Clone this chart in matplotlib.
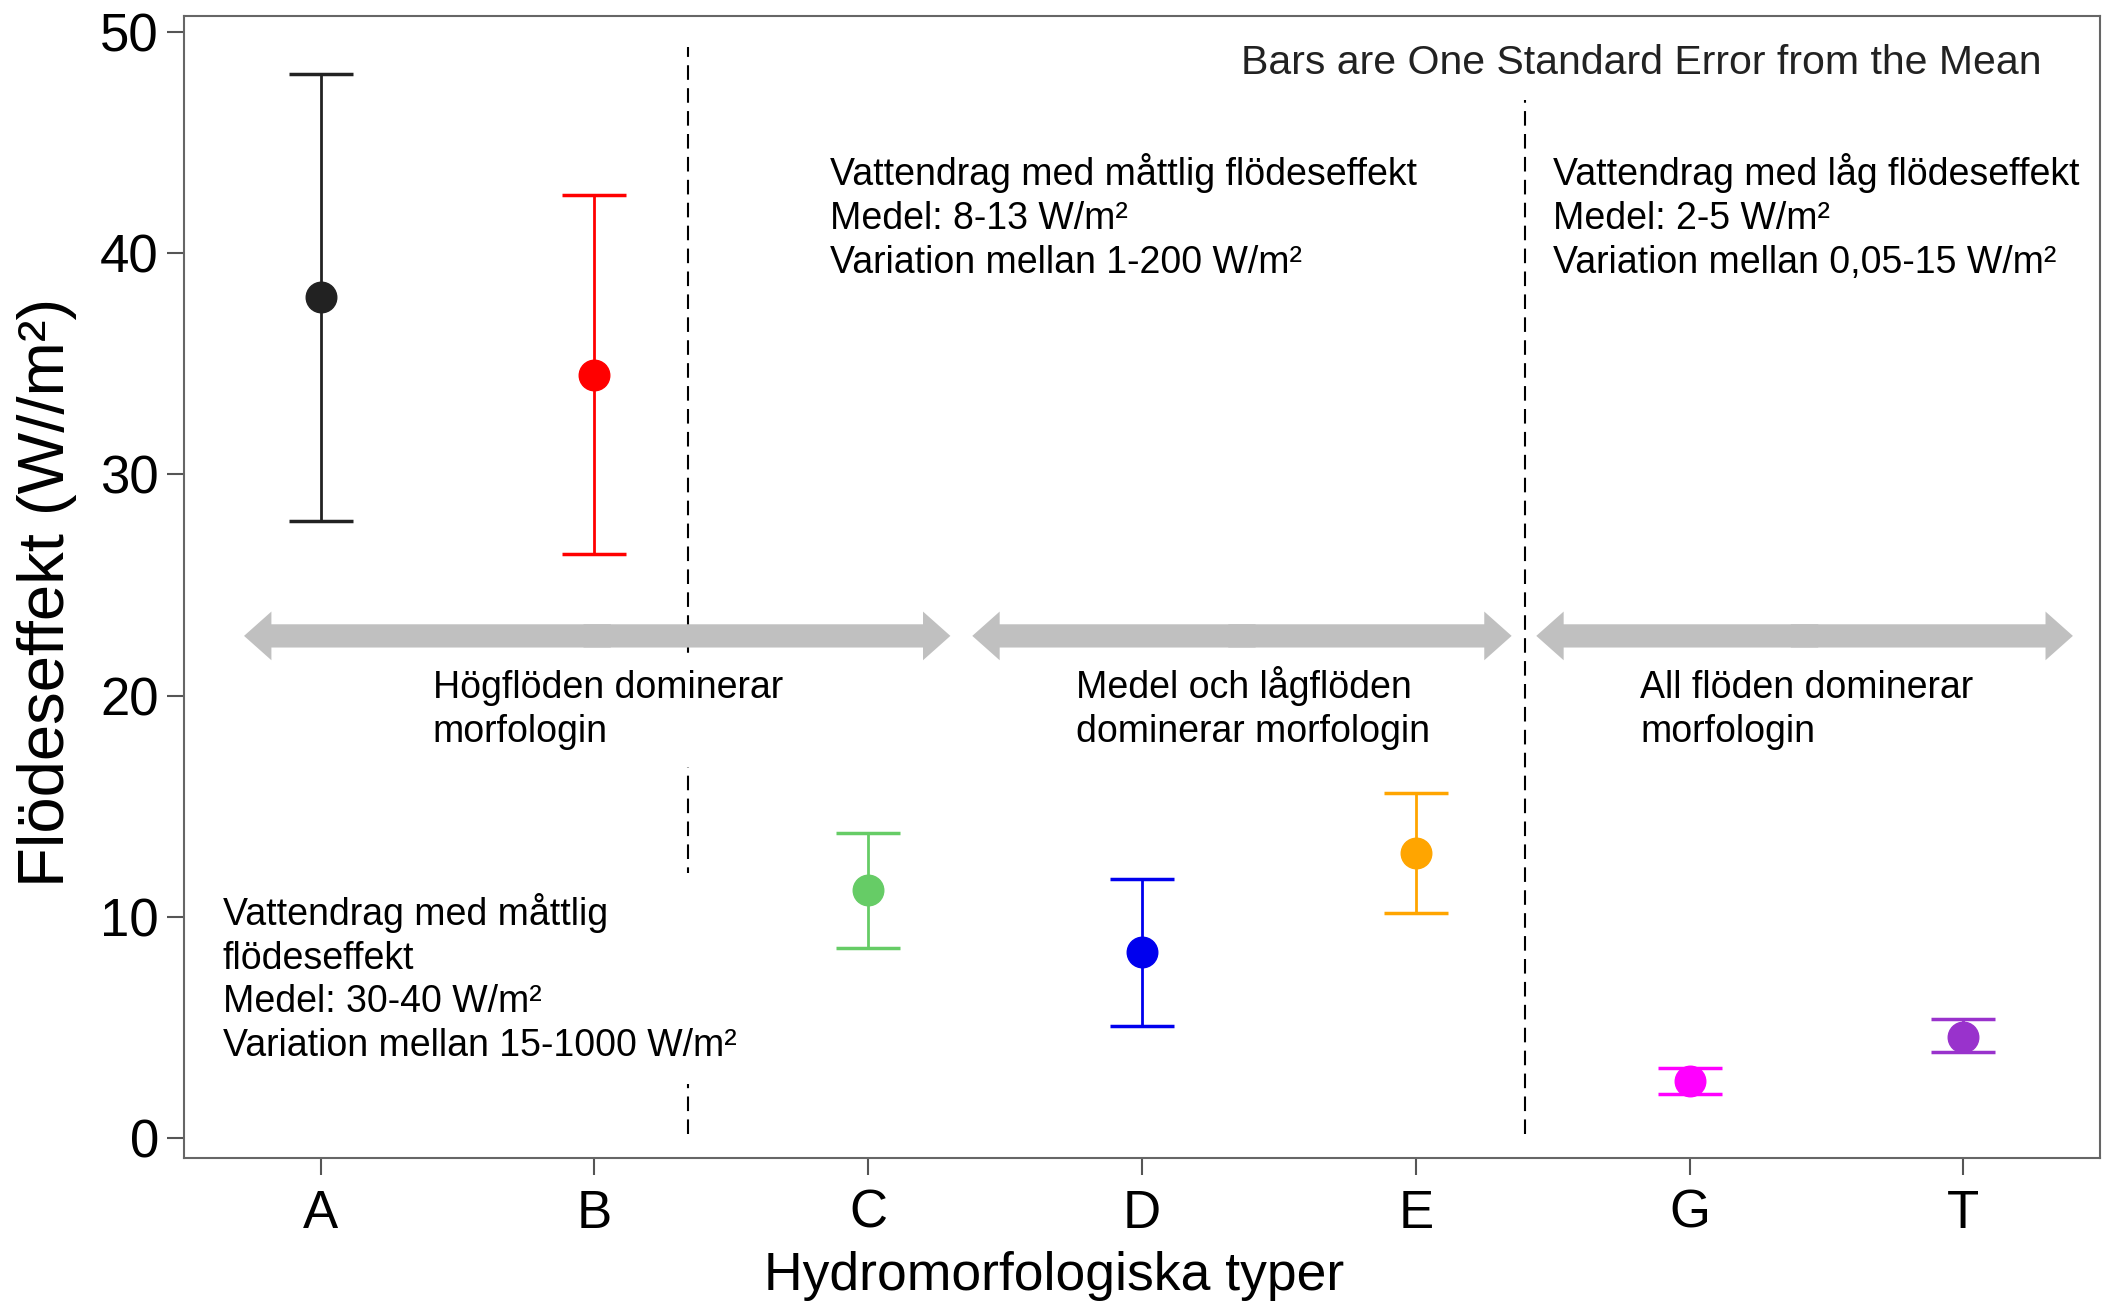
import matplotlib.pyplot as plt

plt.rcParams['font.family'] = ['Liberation Sans', 'DejaVu Sans']

# data
types = ['A', 'B', 'C', 'D', 'E', 'G', 'T']
means = [38.0, 34.5, 11.2, 8.4, 12.9, 2.6, 4.6]
upper = [48.1, 42.6, 13.8, 11.7, 15.6, 3.2, 5.4]
lower = [27.9, 26.4, 8.6, 5.1, 10.2, 2.0, 3.9]
colors = ['#222222', '#ff0000', '#66cc66', '#0000ee', '#ffa500', '#ff00ff', '#9932cc']

# region separators (x in category positions) and arrows
dividers = [2.34, 5.40]
divider_top = [49.3, 46.9]
arrow_spans = [(0.72, 3.30), (3.38, 5.35), (5.44, 7.40)]
arrow_y = 22.7

fig = plt.figure(figsize=(21.03, 13.03), dpi=100)
ax = fig.add_axes([0.0874, 0.111, 0.9113, 0.8767])

xs = list(range(1, len(types) + 1))
for x, m, u, l, c in zip(xs, means, upper, lower, colors):
    ax.errorbar(x, m, yerr=[[m - l], [u - m]], fmt='o', color=c, ms=22,
                elinewidth=2, capsize=23, capthick=2.5, zorder=4)

for d, top in zip(dividers, divider_top):
    ax.vlines(d, 0.2, top, colors='black', linestyles=(0, (7, 4)), lw=1.5, zorder=1)

# double-headed grey arrows (two halves overlapping a bit in the middle)
for x0, x1 in arrow_spans:
    mid = (x0 + x1) / 2
    for start, end in ((mid + 0.05, x0), (mid - 0.05, x1)):
        ax.arrow(start, arrow_y, end - start, 0, width=1.05, head_width=2.2,
                 head_length=0.1, length_includes_head=True,
                 fc='#c0c0c0', ec='none', zorder=2)

fs = 27
ls = 1.28
ax.text(7.285, 48.6, 'Bars are One Standard Error from the Mean', ha='right',
        va='center', fontsize=29.5, color='#222222')
ax.text(2.86, 44.5, 'Vattendrag med måttlig flödeseffekt\nMedel: 8-13 W/m²\n'
        'Variation mellan 1-200 W/m²', ha='left', va='top', fontsize=fs,
        linespacing=ls)
ax.text(5.50, 44.5, 'Vattendrag med låg flödeseffekt\nMedel: 2-5 W/m²\n'
        'Variation mellan 0,05-15 W/m²', ha='left', va='top', fontsize=fs,
        linespacing=ls)
ax.text(1.41, 21.15, 'Högflöden dominerar\nmorfologin', ha='left', va='top',
        fontsize=fs, linespacing=ls, zorder=3,
        bbox=dict(fc='white', ec='none', pad=12))
ax.text(3.76, 21.35, 'Medel och lågflöden\ndominerar morfologin', ha='left',
        va='top', fontsize=fs, linespacing=ls)
ax.text(5.82, 21.15, 'All flöden dominerar\nmorfologin', ha='left', va='top',
        fontsize=fs, linespacing=ls)
ax.text(0.643, 11.1, 'Vattendrag med måttlig\nflödeseffekt\nMedel: 30-40 W/m²\n'
        'Variation mellan 15-1000 W/m²', ha='left', va='top', fontsize=fs,
        linespacing=ls, zorder=3, bbox=dict(fc='white', ec='none', pad=14))

ax.set_xlim(0.5, 7.5)
ax.set_ylim(-0.9, 50.7)
ax.set_xticks(xs)
ax.set_xticklabels(types)
ax.set_yticks([0, 10, 20, 30, 40, 50])
ax.tick_params(axis='both', direction='out', length=12, width=1.5,
               color='#555555', labelsize=38)
ax.tick_params(axis='x', pad=10)
ax.tick_params(axis='y', pad=6)
for s in ax.spines.values():
    s.set_color('#666666')
    s.set_linewidth(1.5)

ax.set_xlabel('Hydromorfologiska typer', fontsize=38.5, va='center')
ax.xaxis.set_label_coords(0.454, -0.103)
ax.set_ylabel('Flödeseffekt (W//m²)', fontsize=47, va='center')
ax.yaxis.set_label_coords(-0.0714, 0.495)

fig.savefig('out.png', dpi=100)
